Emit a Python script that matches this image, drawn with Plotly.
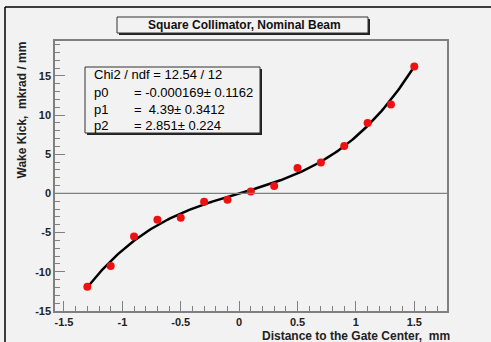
import numpy as np
import plotly.graph_objects as go

# ---- data ----
x_vals = [-1.3, -1.1, -0.9, -0.7, -0.5, -0.3, -0.1, 0.1, 0.3, 0.5, 0.7, 0.9, 1.1, 1.3, 1.5]
y_vals = [-11.9, -9.25, -5.5, -3.35, -3.1, -1.05, -0.8, 0.25, 0.95, 3.25, 3.95, 6.05, 9.0, 11.35, 16.2]
p0, p1, p2 = -0.000169, 4.39, 2.851
x_ticks = [-1.5, -1.0, -0.5, 0.0, 0.5, 1.0, 1.5]
x_tick_text = ["-1.5", "-1", "-0.5", "0", "0.5", "1", "1.5"]
y_ticks = [-15, -10, -5, 0, 5, 10, 15]
y_tick_text = ["-15", "-10", "-5", "0", "5", "10", "15"]
title_text = "Square Collimator, Nominal Beam"
x_title = "Distance to the Gate Center,  mm"
y_title = "Wake Kick,  mkrad / mm"
stat_labels = ["p0", "p1", "p2"]
stat_values = ["= -0.000169\u00b1 0.1162", "=  4.39\u00b1 0.3412", "= 2.851\u00b1 0.224"]
chi2_text = "Chi2 / ndf = 12.54 / 12"

W, H = 491, 342
L, R, T, B = 55, 447, 41, 311
BG = "#f2f2f2"
FONT = "Liberation Sans"


def px(x):
    return (x - L) / (R - L)


def py(y):
    return (B - y) / (B - T)


xf = np.linspace(min(x_vals), max(x_vals), 200)
yf = p0 + p1 * xf + p2 * xf ** 3

fig = go.Figure()
fig.add_trace(go.Scatter(x=xf, y=yf, mode="lines", line=dict(color="black", width=2.5),
                         hoverinfo="skip", showlegend=False))
fig.add_trace(go.Scatter(x=x_vals, y=y_vals, mode="markers",
                         marker=dict(color="#ee1111", size=8), showlegend=False))

axis_common = dict(showgrid=False, zeroline=False, showline=True, linecolor="#808080",
                   linewidth=1.5, mirror=True, ticks="inside", ticklen=10, tickcolor="#808080",
                   tickwidth=1, tickfont=dict(family=FONT, size=11, color="#222", weight="bold"))

fig.update_xaxes(range=[-1.577, 1.78], tickvals=x_ticks, ticktext=x_tick_text,
                 minor=dict(ticks="inside", ticklen=5, dtick=0.1, tickcolor="#808080", showgrid=False),
                 **axis_common)
fig.update_yaxes(range=[-15, 19.45], tickvals=y_ticks, ticktext=y_tick_text,
                 minor=dict(ticks="inside", ticklen=5, dtick=1, tickcolor="#808080", showgrid=False),
                 **axis_common)

shapes = []
# zero line
shapes.append(dict(type="line", xref="paper", yref="y", x0=0, x1=1, y0=0, y1=0,
                   line=dict(color="#808080", width=1.2)))
# outer border (top & left)
shapes.append(dict(type="line", xref="paper", yref="paper", x0=px(5), x1=px(W + 5), y0=py(7), y1=py(7),
                   line=dict(color="black", width=1.5)))
shapes.append(dict(type="line", xref="paper", yref="paper", x0=px(5), x1=px(5), y0=py(7), y1=py(H + 5),
                   line=dict(color="black", width=1.5)))


def box(x0, y0, x1, y1):
    # shadow
    shapes.append(dict(type="rect", xref="paper", yref="paper", x0=px(x0 + 2), x1=px(x1 + 2),
                       y0=py(y0 + 2), y1=py(y1 + 2), fillcolor="#222", line=dict(width=0)))
    shapes.append(dict(type="rect", xref="paper", yref="paper", x0=px(x0), x1=px(x1),
                       y0=py(y0), y1=py(y1), fillcolor=BG, line=dict(color="#333", width=1)))


box(117, 17, 368, 33)
box(85, 67, 260, 133)

ann = []
ann.append(dict(text=title_text, xref="paper", yref="paper", x=px(244), y=py(25), showarrow=False,
                xanchor="center", yanchor="middle",
                font=dict(family=FONT, size=12, color="#111", weight="bold")))
ann.append(dict(text=chi2_text, xref="paper", yref="paper", x=px(92), y=py(75), showarrow=False,
                xanchor="left", yanchor="middle", font=dict(family=FONT, size=13, color="#000")))
for i, (lab, val) in enumerate(zip(stat_labels, stat_values)):
    yy = 92 + i * 17
    ann.append(dict(text=lab, xref="paper", yref="paper", x=px(92), y=py(yy), showarrow=False,
                    xanchor="left", yanchor="middle", font=dict(family=FONT, size=13, color="#000")))
    ann.append(dict(text=val, xref="paper", yref="paper", x=px(132), y=py(yy), showarrow=False,
                    xanchor="left", yanchor="middle", font=dict(family=FONT, size=13, color="#000")))
ann.append(dict(text=x_title, xref="paper", yref="paper", x=px(452), y=py(334), showarrow=False,
                xanchor="right", yanchor="top", yshift=7,
                font=dict(family=FONT, size=12, color="#222", weight="bold")))
ann.append(dict(text=y_title, xref="paper", yref="paper", x=px(22), y=py(40), showarrow=False,
                textangle=-90, xanchor="center", yanchor="top",
                font=dict(family=FONT, size=12, color="#222", weight="bold")))

fig.update_layout(width=W, height=H, margin=dict(l=L, r=W - R, t=T, b=H - B),
                  paper_bgcolor=BG, plot_bgcolor=BG, shapes=shapes, annotations=ann,
                  showlegend=False)

fig.write_html("out.html")
